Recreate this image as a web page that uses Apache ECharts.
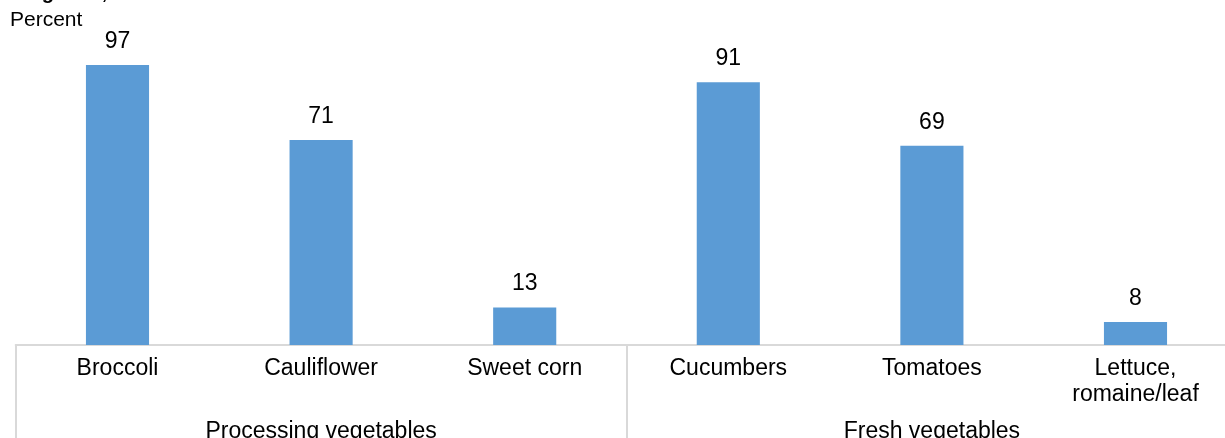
<!DOCTYPE html>
<html>
<head>
<meta charset="utf-8">
<script src="https://cdn.jsdelivr.net/npm/echarts@6/dist/echarts.min.js"></script>
<style>
  html, body { margin: 0; padding: 0; background: #fff; }
  #main { width: 1225px; height: 438px; }
</style>
</head>
<body>
<div id="main"></div>
<script>
// chart data
const categories = ['Broccoli', 'Cauliflower', 'Sweet corn', 'Cucumbers', 'Tomatoes', 'Lettuce,\nromaine/leaf'];
const groups = ['Processing vegetables', 'Fresh vegetables'];
const percents = [97, 71, 13, 91, 69, 8];

const chartDom = document.getElementById('main');
const myChart = echarts.init(chartDom);
const font = '"Liberation Sans", Arial, sans-serif';

const option = {
  animation: false,
  textStyle: { fontFamily: font },
  // plot runs a little past the right edge of the window, like the source
  grid: {
    left: 15.7, right: -12.3, top: 56.3, bottom: 93,
    containLabel: false, outerBoundsMode: 'none'
  },
  graphic: [
    {
      type: 'text', left: 24, top: -17,
      style: { text: 'Figure 2,', font: 'bold 20px ' + font, fill: '#000' }
    },
    {
      type: 'text', left: 10, top: 10,
      style: { text: 'Percent', font: '21px ' + font, fill: '#000' }
    }
  ],
  xAxis: [
    {
      type: 'category',
      data: categories,
      position: 'bottom',
      axisLine: { show: true, lineStyle: { color: '#d9d9d9', width: 2 } },
      axisTick: { show: false },
      axisLabel: {
        interval: 0, margin: 11, color: '#000',
        fontSize: 23, lineHeight: 26, fontFamily: font
      }
    },
    {
      type: 'category',
      data: groups,
      position: 'bottom',
      axisLine: { show: false },
      axisTick: { show: true, length: 95, lineStyle: { color: '#d9d9d9', width: 2 } },
      axisLabel: { interval: 0, margin: 75, color: '#000', fontSize: 23, fontFamily: font }
    }
  ],
  yAxis: {
    type: 'value',
    min: 0,
    max: 100,
    show: false,
    splitLine: { show: false }
  },
  series: [{
    type: 'bar',
    xAxisIndex: 0,
    data: percents,
    barWidth: '31%',
    itemStyle: { color: '#5b9bd5' },
    label: {
      show: true, position: 'top', distance: 12,
      color: '#000', fontSize: 23, fontFamily: font
    }
  }]
};

myChart.setOption(option);
</script>
</body>
</html>
